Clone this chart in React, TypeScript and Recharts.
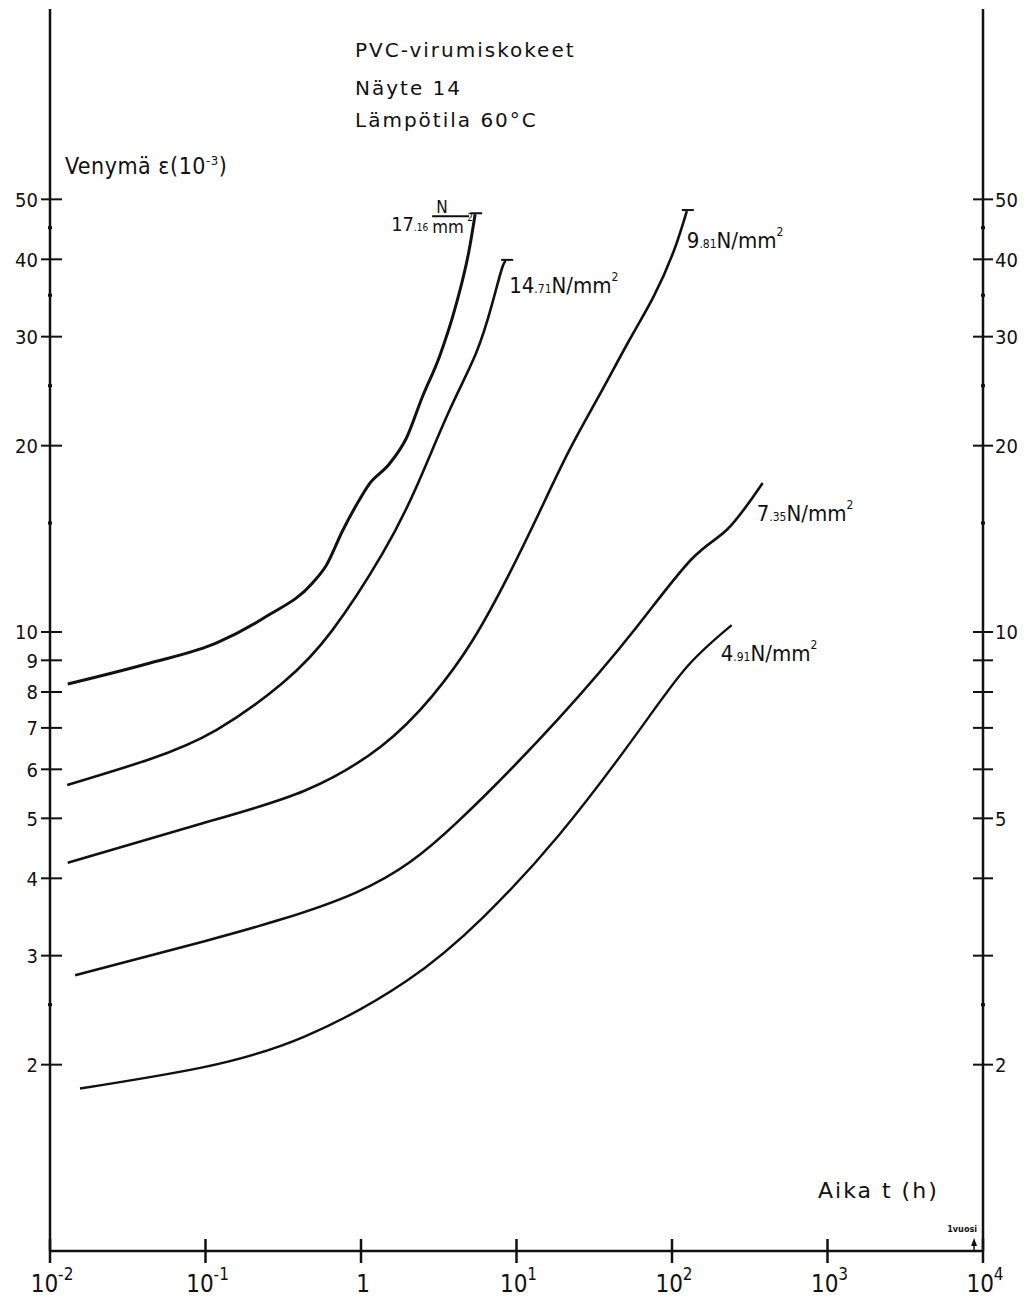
import React from "react";
import { LineChart, Line, XAxis, YAxis, ReferenceDot } from "recharts";

// aika t (h) ja venymä (10^-3) jokaiselle jännitykselle, luettu kuvasta
const t1716 = [0.013, 0.044, 0.118, 0.247, 0.488, 0.6, 0.76, 0.934, 1.13, 1.52, 1.96, 2.48, 3.19, 4.1, 4.96, 5.42];
const e1716 = [8.24, 8.91, 9.6, 10.6, 12.0, 12.83, 14.56, 16.04, 17.34, 18.68, 20.58, 23.97, 27.82, 33.88, 41.42, 47.3];

const t1471 = [0.0129, 0.0438, 0.118, 0.313, 0.655, 1.37, 2.27, 3.69, 5.5, 6.97, 8.08, 8.58];
const e1471 = [5.66, 6.23, 6.95, 8.27, 10.07, 13.37, 17.15, 22.75, 28.23, 33.88, 38.73, 39.77];

const t981 = [0.013, 0.0959, 0.433, 1.35, 2.87, 5.19, 8.83, 13.96, 21.76, 33.9, 52.8, 76.4, 102.7, 124.5];
const e981 = [4.24, 4.91, 5.54, 6.54, 7.88, 9.67, 12.31, 15.57, 19.61, 24.06, 29.52, 34.89, 41.26, 47.87];

const t735 = [0.0145, 0.0959, 0.92, 4.16, 18.77, 58.6, 134, 228, 383];
const e735 = [2.79, 3.16, 3.79, 4.93, 7.26, 10.15, 13.12, 14.67, 17.41];

const t491 = [0.0156, 0.0959, 0.433, 1.96, 6.1, 18.77, 58.6, 124.5, 242];
const e491 = [1.83, 1.98, 2.22, 2.73, 3.46, 4.7, 6.82, 8.78, 10.26];

const xTicks = [0.01, 0.1, 1, 10, 100, 1000, 10000];
const yTicks = [2, 2.5, 3, 4, 5, 6, 7, 8, 9, 10, 15, 20, 25, 30, 35, 40, 45, 50];
const leftLabels = [2, 3, 4, 5, 6, 7, 8, 9, 10, 20, 30, 40, 50];
const rightLabels = [2, 5, 10, 20, 30, 40, 50];
const minorTicks = [2.5, 15, 25, 35, 45];
const oneYear = 8760;

const toRows = (t: number[], e: number[]) => t.map((v, i) => ({ t: v, e: e[i] }));

const INK = "#111";
const COND = "'DejaVu Sans Condensed', 'DejaVu Sans', sans-serif";
const SANS = "'DejaVu Sans', sans-serif";

const XTick = (p: any) => {
  const { x, y, payload } = p;
  const exp = Math.round(Math.log10(payload.value));
  return (
    <g>
      <line x1={x} x2={x} y1={y - 12} y2={y + 12} stroke={INK} strokeWidth={2.5} />
      <text x={x + 2} y={y + 41} textAnchor="middle" fontFamily={COND} fontStretch="condensed" fontSize={24} fill={INK}>
        {exp === 0 ? "1" : (
          <>
            10<tspan dy={-12} fontSize={17}>{String(exp)}</tspan>
          </>
        )}
      </text>
    </g>
  );
};

const LeftTick = (p: any) => {
  const { x, y, payload } = p;
  const v = payload.value;
  if (minorTicks.includes(v)) return <line x1={x - 2} x2={x + 2} y1={y} y2={y} stroke={INK} strokeWidth={3} />;
  return (
    <g>
      <line x1={x - 9} x2={x + 12} y1={y} y2={y} stroke={INK} strokeWidth={2} />
      {leftLabels.includes(v) && (
        <text x={x - 12} y={y} dy="0.36em" textAnchor="end" fontFamily={COND} fontStretch="condensed" fontSize={20} fill={INK}>
          {v}
        </text>
      )}
    </g>
  );
};

const RightTick = (p: any) => {
  const { x, y, payload } = p;
  const v = payload.value;
  if (minorTicks.includes(v)) return <line x1={x - 2} x2={x + 2} y1={y} y2={y} stroke={INK} strokeWidth={3} />;
  return (
    <g>
      <line x1={x - 10} x2={x + 10} y1={y} y2={y} stroke={INK} strokeWidth={2} />
      {rightLabels.includes(v) && (
        <text x={x + 12} y={y} dy="0.36em" textAnchor="start" fontFamily={COND} fontStretch="condensed" fontSize={20} fill={INK}>
          {v}
        </text>
      )}
    </g>
  );
};

// "14.71 N/mm²" style label
const stressText = (x: number, y: number, whole: string, dec: string) => (
  <text x={x} y={y} fontFamily={COND} fontStretch="condensed" fontSize={22} fill={INK}>
    {whole}
    <tspan fontSize={12}>{dec}</tspan>
    <tspan>N/mm</tspan>
    <tspan dy={-12} fontSize={12}>2</tspan>
  </text>
);

const fractionText = (x: number, y: number) => (
  <g fill={INK} fontFamily={COND} fontStretch="condensed">
    <text x={x - 84} y={y + 17} fontSize={20}>
      17<tspan fontSize={10}>.16</tspan>
    </text>
    <text x={x - 39} y={y - 1} fontSize={17}>N</text>
    <line x1={x - 43} x2={x - 6} y1={y + 2} y2={y + 2} stroke={INK} strokeWidth={1.8} />
    <text x={x - 43} y={y + 19} fontSize={18}>mm</text>
    <text x={x - 8} y={y + 7} fontSize={10}>2</text>
  </g>
);

const endMark = (len: number, bar: boolean, label: (x: number, y: number) => React.ReactNode) => (p: any) => {
  if (p.index !== len - 1) return <g key={`d${p.index}`} />;
  return (
    <g key={`d${p.index}`}>
      {bar && <line x1={p.cx - 5} x2={p.cx + 7} y1={p.cy - 1} y2={p.cy - 1} stroke={INK} strokeWidth={2} />}
      {label(p.cx, p.cy)}
    </g>
  );
};

const series = [
  { key: "s1716", t: t1716, e: e1716, bar: true, curve: "monotone", label: (x: number, y: number) => fractionText(x, y), w: 3 },
  { key: "s1471", t: t1471, e: e1471, bar: true, curve: "natural", label: (x: number, y: number) => stressText(x + 3, y + 32, "14", ".71"), w: 2.6 },
  { key: "s981", t: t981, e: e981, bar: true, curve: "natural", label: (x: number, y: number) => stressText(x, y + 37, "9", ".81"), w: 2.6 },
  { key: "s735", t: t735, e: e735, bar: false, curve: "natural", label: (x: number, y: number) => stressText(x - 6, y + 38, "7", ".35"), w: 2.6 },
  { key: "s491", t: t491, e: e491, bar: false, curve: "natural", label: (x: number, y: number) => stressText(x - 11, y + 36, "4", ".91"), w: 2.4 },
];

const YearMark = (p: any) => {
  const { cx, cy } = p;
  return (
    <g>
      <path d={`M${cx} ${cy - 13} L${cx - 3} ${cy - 5} L${cx + 3} ${cy - 5} Z`} fill={INK} />
      <line x1={cx} x2={cx} y1={cy - 6} y2={cy} stroke={INK} strokeWidth={1.5} />
      <text x={cx + 3} y={cy - 19} textAnchor="end" fontFamily={COND} fontSize={9} fontWeight="bold" fill={INK}>
        1vuosi
      </text>
    </g>
  );
};

export default function App() {
  return (
    <div style={{ position: "relative", width: 1020, height: 1291, background: "#fff" }}>
      <LineChart width={1020} height={1291} margin={{ top: 1, right: 5, bottom: 8, left: 2 }}>
        <XAxis
          type="number"
          dataKey="t"
          scale="log"
          domain={[0.01, 10000]}
          ticks={xTicks}
          interval={0}
          tickSize={0}
          tickMargin={0}
          tick={<XTick />}
          height={40}
          axisLine={{ stroke: INK, strokeWidth: 2.5 }}
        />
        <XAxis
          xAxisId="top"
          orientation="top"
          type="number"
          scale="log"
          domain={[0.01, 10000]}
          tick={false}
          tickLine={false}
          height={0}
          axisLine={{ stroke: INK, strokeWidth: 2.5 }}
        />
        <YAxis
          yAxisId="left"
          type="number"
          scale="log"
          domain={[1, 101.5]}
          ticks={yTicks}
          interval={0}
          tickSize={0}
          tickMargin={0}
          tick={<LeftTick />}
          width={40}
          axisLine={{ stroke: INK, strokeWidth: 2.5 }}
        />
        <YAxis
          yAxisId="right"
          orientation="right"
          type="number"
          scale="log"
          domain={[1, 101.5]}
          ticks={yTicks}
          interval={0}
          tickSize={0}
          tickMargin={0}
          tick={<RightTick />}
          width={40}
          axisLine={{ stroke: INK, strokeWidth: 2.5 }}
        />
        {series.map((s) => (
          <Line
            key={s.key}
            yAxisId="left"
            data={toRows(s.t, s.e)}
            dataKey="e"
            type={s.curve as any}
            stroke={INK}
            strokeWidth={s.w}
            dot={endMark(s.t.length, s.bar, s.label)}
            activeDot={false}
            isAnimationActive={false}
          />
        ))}
        {/* unseen copy so the right-hand axis gets its ticks */}
        <Line
          yAxisId="right"
          data={toRows(t491, e491)}
          dataKey="e"
          stroke="transparent"
          dot={false}
          activeDot={false}
          isAnimationActive={false}
        />
        <ReferenceDot yAxisId="left" x={oneYear} y={1} r={0} ifOverflow="visible" shape={<YearMark />} />
      </LineChart>
      <svg width={1020} height={1291} style={{ position: "absolute", left: 0, top: 0, pointerEvents: "none" }}>
        <g fill={INK} fontFamily={SANS} fontSize={20} letterSpacing={2}>
          <text x={347} y={49}>PVC-virumiskokeet</text>
          <text x={347} y={87}>Näyte 14</text>
          <text x={347} y={119}>Lämpötila 60°C</text>
        </g>
        <text x={57} y={166} fill={INK} fontFamily={COND} fontStretch="condensed" fontSize={23} letterSpacing={0.5}>
          Venymä ε(10<tspan dy={-9} fontSize={13}>-3</tspan>
          <tspan dy={9}>)</tspan>
        </text>
        <text x={810} y={1190} fill={INK} fontFamily={SANS} fontSize={22} letterSpacing={2}>
          Aika t (h)
        </text>
      </svg>
    </div>
  );
}
